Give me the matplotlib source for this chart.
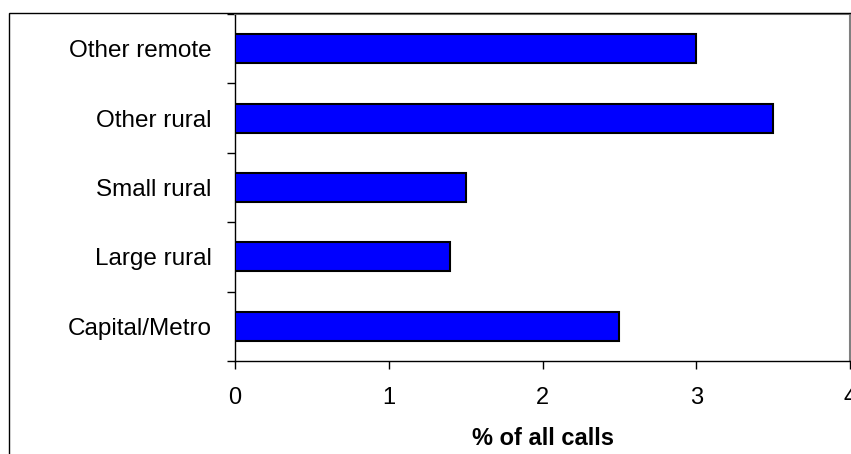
import matplotlib
matplotlib.use("Agg")
import matplotlib.pyplot as plt
from matplotlib.patches import Rectangle
import numpy as np

categories = ["Capital/Metro", "Large rural", "Small rural", "Other rural", "Other remote"]
values = [2.5, 1.4, 1.5, 3.5, 3.0]
xticks = [0, 1, 2, 3, 4]
xlabel = "% of all calls"

plt.rcParams['font.family'] = ['Liberation Sans', 'DejaVu Sans']

W, H = 851, 454
fig = plt.figure(figsize=(W/100, H/100), dpi=100)

# outer chart border
fig.patches.append(Rectangle((9/W, -0.1), 1.2, 1 - 13/H + 0.1, transform=fig.transFigure,
                             fill=False, edgecolor='black', linewidth=1.0, zorder=0))

ax = fig.add_axes([235/W, 1 - 361/H, (850-235)/W, (361-14)/H])
y = np.arange(len(categories))
ax.barh(y, values, height=0.42, color='#0000FF', edgecolor='black', linewidth=1.5, zorder=3)

ax.set_xlim(0, 4)
ax.set_ylim(-0.5, len(categories) - 0.5)
ax.set_xticks(xticks)
ax.set_xticklabels([str(t) for t in xticks], fontsize=17)
ax.set_yticks(y)
ax.set_yticklabels(categories, fontsize=17.5)
ax.set_yticks(np.arange(len(categories) + 1) - 0.5, minor=True)
ax.tick_params(axis='y', which='major', length=0, pad=17)
ax.tick_params(axis='y', which='minor', length=6, direction='out', width=1)
ax.tick_params(axis='x', which='major', length=6, direction='out', width=1, pad=13)
ax.set_xlabel(xlabel, fontsize=17, fontweight='bold', labelpad=13)

for s in ['left', 'bottom']:
    ax.spines[s].set_color('black')
    ax.spines[s].set_linewidth(1.0)
for s in ['top', 'right']:
    ax.spines[s].set_color('#808080')
    ax.spines[s].set_linewidth(1.5)

fig.savefig("out.png", dpi=100)
